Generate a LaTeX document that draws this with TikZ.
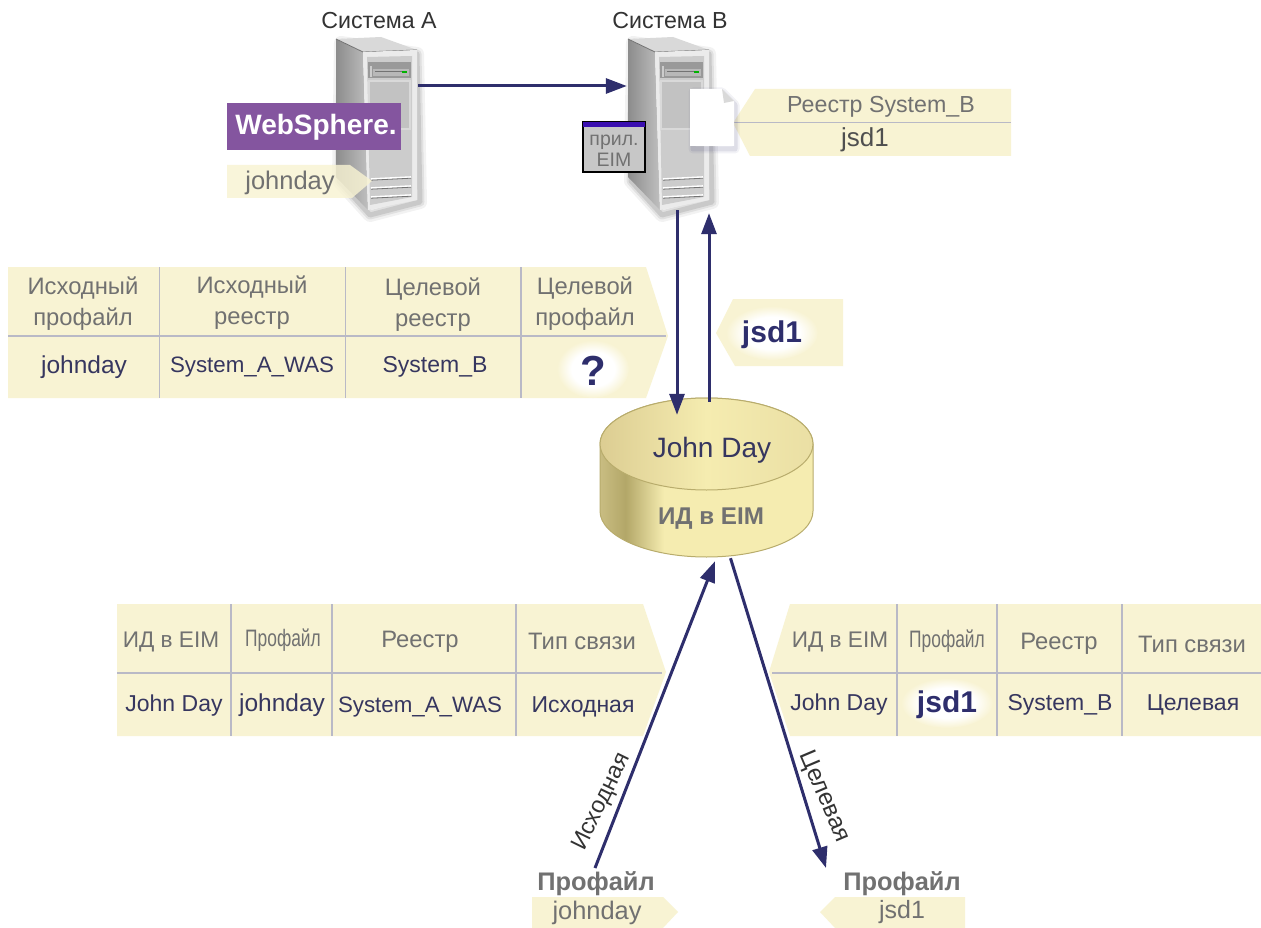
\documentclass[tikz,border=0pt]{standalone}
\usepackage{fontspec}
\usepackage{graphicx}
\setmainfont{Liberation Sans}
\usetikzlibrary{arrows.meta,shapes.geometric}
\definecolor{tagc}{HTML}{F8F3D3}
\definecolor{gridc}{HTML}{B9B9C6}
\definecolor{navy}{HTML}{2E2E6C}
\definecolor{hdrc}{HTML}{717171}
\definecolor{valc}{HTML}{36365F}
\definecolor{cylline}{HTML}{B8AC6C}
\definecolor{websph}{HTML}{84559F}
\definecolor{titleb}{HTML}{3A0FB0}
\definecolor{cyl0}{HTML}{C9BD82}
\definecolor{cyl1}{HTML}{B3A768}
\definecolor{cyl2}{HTML}{F5ECB0}
\definecolor{cyl3}{HTML}{DCCD92}
\definecolor{cyl4}{HTML}{EADFA4}
\pgfdeclarehorizontalshading{cylside}{100bp}{color(0bp)=(cyl0); color(25bp)=(cyl0); color(31bp)=(cyl1); color(40bp)=(cyl2); color(75bp)=(cyl2); color(100bp)=(cyl2)}
\pgfdeclarehorizontalshading{cyltop}{100bp}{color(0bp)=(cyl3); color(25bp)=(cyl3); color(50bp)=(cyl2); color(75bp)=(cyl4); color(100bp)=(cyl4)}
\pgfdeclareradialshading{glowr}{\pgfpoint{0bp}{0bp}}{color(0bp)=(white); color(15bp)=(white); color(25bp)=(tagc); color(50bp)=(tagc)}
\tikzset{
  hdr/.style={inner sep=0pt,align=center,yshift=-1.5pt,text=hdrc,font=\fontsize{23.8}{31}\selectfont},
  val/.style={inner sep=0pt,align=center,yshift=-1.5pt,text=valc,font=\fontsize{23}{26}\selectfont},
  captxt/.style={inner sep=0pt,text=black!80,font=\fontsize{23.2}{26}\selectfont},
  boldv/.style={inner sep=0pt,yshift=-1.5pt,text=navy,font=\fontsize{30}{32}\selectfont\bfseries},
  boldg/.style={inner sep=0pt,yshift=-1pt,text=hdrc,font=\fontsize{25.4}{28}\selectfont\bfseries},
  gridl/.style={draw=gridc,line width=1.3pt},
  conn/.style={draw=navy,line width=3pt,-{Triangle[length=21pt,width=15pt]}},
  anchorbox/.style={inner sep=0pt,minimum width=82pt,minimum height=172pt},
  serverpic/.pic={
    \foreach \w/\o in {14/.05,9/.07,5/.10}{
      \draw[black,opacity=\o,line width=\w pt,line join=round] (5,4)--(81,15)--(84,163)--(34,176)--(3,142)--cycle;
    }
    \shade[left color=black!45,right color=black!25] (0,0)--(27,13)--(32,171)--(0,138)--cycle;
    \fill[white!85!black] (0,0)--(45,-2)--(81,11)--(27,13)--cycle;
    \draw[black!55,line width=.8pt] (0,0)--(27,13)--(81,11);
    \fill[white!92!black] (27,13)--(81,11)--(81,161)--(32,171)--cycle;
    \fill[black!20] (31,18)--(76,17)--(76,158)--(34,166)--cycle;
    \fill[black!40] (32,23) rectangle (75,39);
    \fill[white!80!black] (34,27) rectangle (36,38);
    \fill[black!28] (37,30) rectangle (73,37);
    \draw[black!55,line width=1pt] (39,33)--(66,33);
    \fill[green!70!black] (66,32) rectangle (71,34);
    \fill[white!85!black] (32,41) rectangle (75,91);
    \fill[black!24] (34,43) rectangle (73,89);
    \foreach \y in {139,148,157}{
      \draw[white,line width=1.6pt] (35,\y+1)--(75,\y-1);
      \draw[black!55,line width=.8pt] (35,\y+2.2)--(75,\y+.2);
    }
  }
}
\begin{document}
\begin{tikzpicture}[x=1pt,y=-1pt]
\useasboundingbox (0,0) rectangle (1261,928);
\fill[white] (0,0) rectangle (1261,928);

% servers
\pic at (336,39) {serverpic};
\pic at (628,39) {serverpic};
\node[anchorbox] (srvA) at (377,124) {};
\node[anchorbox] (srvB) at (668,124) {};
\node[captxt] (capA) at (379,21) {Система A};
\node[captxt] (capB) at (670,21) {Система B};

% WebSphere
\node[fill=websph,inner sep=0pt,minimum width=174pt,minimum height=47pt] (ws) at (313.5,126.5) {};
\node[inner sep=0pt,text=white,font=\fontsize{28}{32}\selectfont\bfseries] (wstxt) at (316,127) {WebSphere.};

% johnday tag on system A
\fill[tagc,opacity=.82] (227,165)--(350,165)--(372,181)--(352,198)--(227,198)--cycle;
\node[val,text=hdrc,font=\fontsize{25.5}{28}\selectfont] (jdA) at (290,181) {johnday};

% application window
\node[draw=black,line width=1.8pt,fill=black!22,minimum width=62pt,minimum height=50pt,inner sep=0pt] (app) at (614,147) {};
\fill[titleb] ([xshift=1pt,yshift=-1pt]app.north west) rectangle ([xshift=-1pt,yshift=-6pt]app.north east);
\node[hdr,font=\fontsize{19.5}{21}\selectfont] (apptxt) at (614,149) {прил.\\EIM};

% document and registry tag
\fill[tagc] (755,89)--(1011,89)--(1011,156)--(750,156)--(733,123)--cycle;
\draw[gridl,line width=1pt] (733,123)--(1011,123);
\foreach \w/\o in {9/.06,5/.10}{\draw[navy,opacity=\o,line width=\w pt,line join=round] (693,92)--(722,92)--(735,105)--(735,149)--(693,149)--cycle;}
\fill[white] (690,89)--(722,89)--(734,101)--(734,146)--(690,146)--cycle;
\fill[black!15] (722,89)--(734,101)--(724,103)--cycle;
\node[hdr,font=\fontsize{23.2}{26}\selectfont] (regname) at (881,105) {Реестр System\_B};
\node[val,text=hdrc!70!black,font=\fontsize{26}{28}\selectfont] (regval) at (865,138.5) {jsd1};

% lookup table
\fill[tagc] (8,267)--(646,267)--(668,336)--(646,398)--(8,398)--cycle;
\draw[gridl] (8,336)--(666,336);
\foreach \x in {159.5,345.5,521}{\draw[gridl] (\x,267)--(\x,398);}
\node[hdr] (l1) at (83,302) {Исходный\\профайл};
\node[hdr] (l2) at (252,301) {Исходный\\реестр};
\node[hdr] (l3) at (433,303) {Целевой\\реестр};
\node[hdr] (l4) at (585,302) {Целевой\\профайл};
\node[val,font=\fontsize{24.5}{26}\selectfont] (l5) at (84,365.5) {johnday};
\node[val,font=\fontsize{22.3}{26}\selectfont] (l6) at (252,365.5) {System\_A\_WAS};
\node[val] (l7) at (435,365.5) {System\_B};
\shade[shading=glowr] (593,369) ellipse [x radius=36,y radius=29];
\node[boldv,font=\fontsize{42}{44}\selectfont\bfseries] (qm) at (593,369) {?};

% jsd1 returned
\fill[tagc] (733,299)--(843,299)--(843,366)--(735,366)--(716,333)--cycle;
\shade[shading=glowr] (772,333) ellipse [x radius=46,y radius=27];
\node[boldv] (ret) at (772,333) {jsd1};

% cylinder
\node[inner sep=0pt,minimum width=213pt,minimum height=160pt] (cyl) at (706.5,478) {};
\shade[shading=cylside,draw=cylline,line width=1pt] (600,444) -- (600,511) arc[start angle=180,end angle=0,x radius=106.5,y radius=46] -- (813,444) arc[start angle=0,end angle=-180,x radius=106.5,y radius=46] -- cycle;
\shade[shading=cyltop,draw=cylline,line width=1pt] (706.5,444) ellipse [x radius=106.5,y radius=46];
\node[val,font=\fontsize{28}{30}\selectfont] (jd) at (712,449) {John Day};
\node[boldg,font=\fontsize{24.2}{26}\selectfont\bfseries] (eim) at (711,518) {ИД в EIM};

% table left
\fill[tagc] (117,604)--(643,604)--(666,672)--(643,736)--(117,736)--cycle;
\draw[gridl] (117,673)--(662,673);
\foreach \x in {231,332,516}{\draw[gridl] (\x,604)--(\x,736);}
\node[hdr,font=\fontsize{22.6}{26}\selectfont] (a1) at (171,640) {ИД в EIM};
\node[hdr] (a2) at (283,639) {\scalebox{.73}[1]{Профайл}};
\node[hdr] (a3) at (420,640) {Реестр};
\node[hdr] (a4) at (582,640) {Тип связи};
\node[val] (a5) at (174,704) {John Day};
\node[val,font=\fontsize{24.5}{26}\selectfont] (a6) at (282,704) {johnday};
\node[val,font=\fontsize{22.3}{26}\selectfont] (a7) at (420,706) {System\_A\_WAS};
\node[val] (a8) at (583,705) {Исходная};

% table right
\fill[tagc] (790,604)--(1261,604)--(1261,736)--(790,736)--(769,672)--cycle;
\draw[gridl] (772,673)--(1261,673);
\foreach \x in {897,997,1122}{\draw[gridl] (\x,604)--(\x,736);}
\node[hdr,font=\fontsize{22.6}{26}\selectfont] (b1) at (840,640) {ИД в EIM};
\node[hdr] (b2) at (947,640) {\scalebox{.73}[1]{Профайл}};
\node[hdr] (b3) at (1059,642) {Реестр};
\node[hdr] (b4) at (1192,643) {Тип связи};
\node[val] (b5) at (839,703) {John Day};
\shade[shading=glowr] (947,703) ellipse [x radius=46,y radius=25];
\node[boldv] (b6) at (947,703) {jsd1};
\node[val] (b7) at (1060,703) {System\_B};
\node[val] (b8) at (1193,703) {Целевая};

% bottom profile tags
\node[boldg] (profA) at (596,883) {Профайл};
\fill[tagc] (532,897)--(663,897)--(678,912)--(663,928)--(532,928)--cycle;
\node[val,text=hdrc,font=\fontsize{25.4}{28}\selectfont] (tagA) at (597,911) {johnday};
\node[boldg] (profB) at (902,883) {Профайл};
\fill[tagc] (835,897)--(965,897)--(965,928)--(835,928)--(820,912)--cycle;
\node[val,text=hdrc,font=\fontsize{25}{28}\selectfont] (tagB) at (902,911) {jsd1};

% connectors
\coordinate (startS) at (595,868);
\coordinate (endT) at (826,868);
\draw[conn] ([yshift=38pt]srvA.east) -- ([yshift=38pt]srvB.west);
\draw[conn] ([xshift=9pt]srvB.south) -- ([xshift=-29.5pt,yshift=-17pt]cyl.north);
\draw[conn] ([xshift=2.5pt,yshift=-4pt]cyl.north) -- ([xshift=41pt,yshift=-3pt]srvB.south);
\draw[conn] (startS) -- ([xshift=8.5pt,yshift=-3pt]cyl.south);
\draw[conn] ([xshift=24pt,yshift=0pt]cyl.south) -- (endT);
\node[captxt,rotate=64,font=\fontsize{23.5}{26}\selectfont] (lblS) at (602,802) {Исходная};
\node[captxt,rotate=-67,font=\fontsize{24}{26}\selectfont] (lblT) at (824,797) {Целевая};
\end{tikzpicture}
\end{document}
